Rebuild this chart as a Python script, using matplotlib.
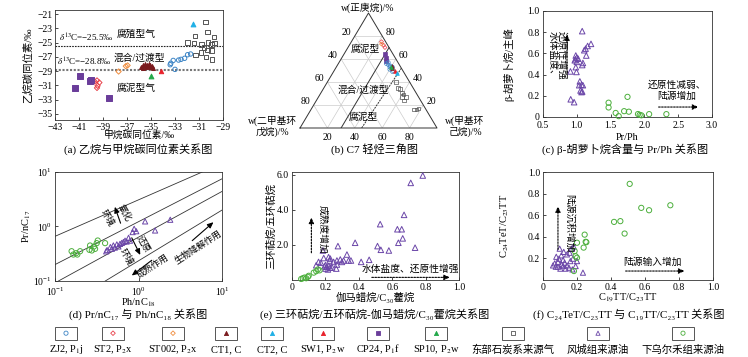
import numpy as np
import matplotlib
matplotlib.use("Agg")
import matplotlib.pyplot as plt
from matplotlib.patches import Rectangle
from matplotlib.ticker import NullLocator

plt.rcParams['font.family'] = ['Liberation Serif', 'Noto Sans CJK SC', 'DejaVu Sans']
plt.rcParams['mathtext.fontset'] = 'stix'
plt.rcParams['font.size'] = 7
plt.rcParams['axes.linewidth'] = 0.6
plt.rcParams['axes.edgecolor'] = '#333333'
plt.rcParams['xtick.direction'] = 'in'
plt.rcParams['ytick.direction'] = 'in'
plt.rcParams['xtick.major.size'] = 2.5
plt.rcParams['ytick.major.size'] = 2.5
plt.rcParams['xtick.major.width'] = 0.5
plt.rcParams['ytick.major.width'] = 0.5
plt.rcParams['xtick.labelsize'] = 7
plt.rcParams['ytick.labelsize'] = 7

# ---------------- data ----------------
# (a) ethane vs methane carbon isotopes (permil)
a_zj2_x = [-33.4, -33.35, -33.15, -32.7, -32.5, -32.2, -31.95, -31.7, -33.0]
a_zj2_y = [-28.1, -27.9, -27.5, -27.45, -27.35, -27.2, -26.7, -26.6, -28.75]
a_st2_x = [-39.7, -39.5, -39.3, -39.45, -39.5]
a_st2_y = [-30.45, -30.3, -30.6, -31.05, -31.35]
a_st002_x = [-37.7, -37.1, -36.95]
a_st002_y = [-29.05, -28.3, -28.2]
a_ct1_x = [-35.8, -35.65, -35.5, -35.35, -35.2, -35.05, -34.9, -35.7, -35.45, -35.1, -34.8, -35.3]
a_ct1_y = [-28.35, -28.2, -28.05, -28.1, -27.95, -28.1, -28.3, -28.5, -28.45, -28.4, -28.5, -28.3]
a_ct2_x = [-31.5]
a_ct2_y = [-22.4]
a_sw1_x = [-34.2]
a_sw1_y = [-28.95]
a_cp24_x = [-40.9, -41.35, -40.0, -40.1, -38.5]
a_cp24_y = [-29.65, -31.3, -30.25, -30.45, -32.8]
a_sp10_x = [-35.0]
a_sp10_y = [-29.75]
a_east_x = [-30.45, -31.35, -30.3, -29.75, -31.95, -31.4, -30.8, -30.25, -29.95, -29.7,
            -30.6, -30.3, -29.95, -30.85, -30.4, -29.9, -31.3]
a_east_y = [-22.1, -24.1, -23.5, -24.2, -25.0, -25.1, -25.25, -25.0, -25.25, -25.1,
            -25.7, -26.0, -26.1, -26.4, -27.05, -27.35, -26.7]
a_limits = [-25.5, -28.8]

# (b) C7 light hydrocarbons, w% (n-heptane, dimethylcyclopentane, methylcyclohexane)
b_st2 = dict(c7=[75, 72, 70], dmcp=[3, 3, 3], mch=[22, 25, 27])
b_st002 = dict(c7=[73], dmcp=[4], mch=[23])
b_cp24 = dict(c7=[64, 61, 58], dmcp=[6, 7, 8], mch=[30, 32, 34])
b_zj2 = dict(c7=[57, 55, 54, 53, 52, 50, 56, 51, 49, 53], dmcp=[7, 8, 7, 8, 7, 7, 9, 9, 8, 6],
             mch=[36, 37, 39, 39, 41, 43, 35, 40, 43, 41])
b_ct1 = dict(c7=[54, 52], dmcp=[6, 7], mch=[40, 41])
b_ct2 = dict(c7=[48], dmcp=[5], mch=[47])
b_sw1 = dict(c7=[50], dmcp=[6], mch=[44])
b_sp10 = dict(c7=[53], dmcp=[7], mch=[40])
b_east = dict(c7=[40, 35, 34, 31, 29, 27, 27, 24, 16, 16, 17], dmcp=[10, 11, 10, 10, 10, 9, 12, 12, 9, 7, 5],
              mch=[50, 54, 56, 59, 61, 64, 61, 64, 75, 77, 78])
b_bound1 = dict(c7=[0, 70], mch=[30, 30])
b_bound2 = dict(c7=[0, 52], mch=[45, 48])

# (c) beta-carotane / main peak vs Pr/Ph
c_fc_x = [1.08, 1.21, 1.16, 1.13, 1.11, 1.14, 0.985, 1.0, 0.98, 1.02, 0.97, 1.0, 1.09, 1.08,
          0.985, 0.995, 0.906, 1.045, 1.07, 1.035, 1.09, 1.055, 1.08, 1.07, 0.91, 0.96]
c_fc_y = [0.81, 0.69, 0.67, 0.645, 0.63, 0.58, 0.58, 0.56, 0.545, 0.55, 0.535, 0.52, 0.51, 0.49,
          0.47, 0.425, 0.43, 0.336, 0.305, 0.30, 0.30, 0.25, 0.24, 0.235, 0.167, 0.14]
c_xw_x = [1.47, 1.47, 1.75, 1.575, 1.62, 1.70, 1.77, 1.905, 1.93, 1.955, 2.07, 2.325]
c_xw_y = [0.135, 0.09, 0.19, 0.038, 0.008, 0.055, 0.05, 0.028, 0.02, 0.016, 0.027, 0.027]

# (d) Pr/nC17 vs Ph/nC18
d_xw_x = [0.158, 0.166, 0.185, 0.2, 0.179, 0.258, 0.276, 0.263, 0.293, 0.316, 0.325, 0.302, 0.398]
d_xw_y = [0.352, 0.306, 0.306, 0.352, 0.324, 0.373, 0.363, 0.448, 0.43, 0.495, 0.553, 0.389, 0.495]
d_fc_x = [1.2, 2.4, 1.58, 0.887, 0.85, 0.94, 0.76, 0.79, 0.69, 0.66, 0.6, 0.55, 0.5, 0.46,
          0.42, 0.48, 0.52, 0.575, 0.63, 0.72, 0.41]
d_fc_y = [1.24, 1.33, 0.845, 0.906, 0.79, 0.82, 0.62, 0.55, 0.55, 0.52, 0.48, 0.47, 0.45, 0.42,
          0.37, 0.39, 0.41, 0.43, 0.5, 0.53, 0.35]
# guide lines (start x, start y, end x, end y)
d_guides = [(0.1, 0.66, 5.8, 10), (0.1, 0.2, 10, 7.5), (0.11, 0.1, 10, 4.4), (0.4, 0.1, 10, 2.0)]

# (e) tricyclic/pentacyclic terpanes vs gammacerane/C30 hopane
e_fc_x = [0.783, 0.711, 0.671, 0.528, 0.631, 0.657, 0.663, 0.637, 0.737, 0.512, 0.532, 0.58,
          0.378, 0.275, 0.185, 0.414, 0.462, 0.329, 0.339, 0.353, 0.289, 0.309, 0.299, 0.249,
          0.269, 0.219, 0.229, 0.225, 0.159, 0.145, 0.173, 0.265, 0.269, 0.19, 0.20, 0.21,
          0.22, 0.23, 0.2, 0.215, 0.24, 0.195]
e_fc_y = [5.95, 5.53, 3.71, 3.18, 2.89, 2.89, 2.37, 2.12, 1.84, 1.93, 1.72, 1.68,
          2.12, 1.93, 1.68, 1.03, 1.15, 1.45, 1.11, 1.11, 1.17, 1.11, 1.03, 1.03,
          1.11, 1.30, 1.22, 1.11, 1.03, 0.84, 0.98, 0.65, 0.88, 1.25, 0.85, 0.75,
          0.8, 0.7, 0.65, 0.6, 0.72, 0.78]
e_xw_x = [0.055, 0.065, 0.075, 0.085, 0.095, 0.10, 0.13, 0.145, 0.155, 0.165]
e_xw_y = [0.06, 0.10, 0.14, 0.10, 0.18, 0.24, 0.42, 0.50, 0.60, 0.55]

# (f) C24TeT/C23TT vs C19TT/C23TT
f_xw_x = [0.51, 0.578, 0.624, 0.749, 0.418, 0.455, 0.48, 0.245, 0.255, 0.251, 0.239, 0.2,
          0.186, 0.192, 0.2, 0.182]
f_xw_y = [0.89, 0.668, 0.646, 0.692, 0.538, 0.545, 0.43, 0.42, 0.35, 0.354, 0.3, 0.345,
          0.268, 0.22, 0.206, 0.083]
f_fc_x = [0.235, 0.098, 0.122, 0.167, 0.18, 0.141, 0.157, 0.108, 0.078, 0.094, 0.118, 0.088,
          0.127, 0.069, 0.108, 0.141, 0.161, 0.176, 0.2, 0.192, 0.075, 0.102, 0.133, 0.153,
          0.173, 0.059, 0.088, 0.118]
f_fc_y = [0.068, 0.29, 0.26, 0.29, 0.31, 0.237, 0.252, 0.228, 0.215, 0.197, 0.185, 0.166,
          0.16, 0.154, 0.142, 0.135, 0.175, 0.197, 0.175, 0.129, 0.123, 0.105, 0.105, 0.114,
          0.098, 0.135, 0.123, 0.129]

legend_keys = ['zj2', 'st2', 'st002', 'ct1', 'ct2', 'sw1', 'cp24', 'sp10', 'east', 'fc', 'xw']
legend_labels = ['ZJ2, P$_1$j', 'ST2, P$_2$x', 'ST002, P$_2$x', 'CT1, C', 'CT2, C', 'SW1, P$_2$w',
                 'CP24, P$_1$f', 'SP10, P$_2$w', '东部石炭系来源气', '风城组来源油', '下乌尔禾组来源油']

# marker, colour, filled
STYLE = {
    'zj2': ('o', '#3d85c6', False),
    'st2': ('D', '#e8414a', False),
    'st002': ('D', '#f08c3c', False),
    'ct1': ('^', '#7a1a1e', True),
    'ct2': ('^', '#1fb0e6', True),
    'sw1': ('^', '#e8202a', True),
    'cp24': ('s', '#6a3d9a', True),
    'sp10': ('^', '#22a84a', True),
    'east': ('s', '#555555', False),
    'fc': ('^', '#6b46a8', False),
    'xw': ('o', '#4caf3c', False),
}


def pts(ax, x, y, key, s=12, lw=0.7):
    m, c, filled = STYLE[key]
    if m == 'D':
        s = s * 0.6
    ax.scatter(x, y, marker=m, s=s, facecolors=c if filled else 'none', edgecolors=c,
               linewidths=lw, zorder=3, clip_on=False)


def darrow(ax, p0, p1, ls=(0, (1.5, 1.2)), lw=0.8):
    ax.annotate('', xy=p1, xytext=p0,
                arrowprops=dict(arrowstyle='-|>,head_length=0.5,head_width=0.22', color='k',
                                lw=lw, ls=ls, shrinkA=0, shrinkB=0))


W, H = 748, 357
fig = plt.figure(figsize=(W / 100, H / 100), dpi=100)


def box(l, t, r, b):
    return [l / W, 1 - b / H, (r - l) / W, (b - t) / H]


# ---------------- (a) ----------------
ax = fig.add_axes(box(55, 10, 223, 120))
pts(ax, a_east_x, a_east_y, 'east', s=10)
pts(ax, a_zj2_x, a_zj2_y, 'zj2', s=10)
pts(ax, a_st2_x, a_st2_y, 'st2', s=12)
pts(ax, a_st002_x, a_st002_y, 'st002', s=12)
pts(ax, a_ct1_x, a_ct1_y, 'ct1', s=8)
pts(ax, a_ct2_x, a_ct2_y, 'ct2', s=12)
pts(ax, a_sw1_x, a_sw1_y, 'sw1', s=10)
pts(ax, a_cp24_x, a_cp24_y, 'cp24', s=14)
pts(ax, a_sp10_x, a_sp10_y, 'sp10', s=12)
ax.axhline(a_limits[0], color='#222222', lw=0.8, ls=(0, (1.5, 1)))
ax.axhline(a_limits[1], color='#777777', lw=1.5, ls=(0, (1, 0.8)))
ax.text(-42.7, a_limits[0] + 0.25, r'$\delta^{13}$C=−25.5‰', fontsize=6.5, va='bottom')
ax.text(-42.8, a_limits[1] + 0.25, r'$\delta^{13}$C=−28.8‰', fontsize=6.5, va='bottom')
ax.text(-36.2, -23.85, '腐殖型气', fontsize=7, ha='center', va='center')
ax.text(-36.0, -27.2, '混合/过渡型', fontsize=7, ha='center', va='center')
ax.text(-36.2, -31.4, '腐泥型气', fontsize=7, ha='center', va='center')
ax.set_xlim(-43, -29)
ax.set_ylim(-35.84, -20.44)
ax.set_xticks(np.arange(-43, -28, 2))
ax.set_yticks(np.arange(-35, -20, 2))
ax.tick_params(pad=2)
ax.set_xlabel('甲烷碳同位素/‰', fontsize=7)
ax.set_ylabel('乙烷碳同位素/‰', fontsize=7.5)
ax.xaxis.set_label_coords(0.5, -0.095)
ax.yaxis.set_label_coords(-0.13, 0.5)

# ---------------- (b) ternary ----------------
tx = fig.add_axes(box(300, 13, 437, 128))
tx.set_xlim(0, 1)
tx.set_ylim(0, np.sqrt(3) / 2)
tx.set_axis_off()
R3 = np.sqrt(3) / 2


def tern(c7, mch):
    c7 = np.asarray(c7, float) / 100
    mch = np.asarray(mch, float) / 100
    return mch + c7 / 2, c7 * R3


for k in [20, 40, 60, 80]:
    # constant n-heptane
    x0, y0 = tern(k, 0)
    x1, y1 = tern(k, 100 - k)
    tx.plot([x0, x1], [y0, y1], color='#cccccc', lw=0.5)
    # constant MCH
    x0, y0 = tern(0, k)
    x1, y1 = tern(100 - k, k)
    tx.plot([x0, x1], [y0, y1], color='#cccccc', lw=0.5)
    # constant DMCP
    x0, y0 = tern(0, 100 - k)
    x1, y1 = tern(100 - k, 0)
    tx.plot([x0, x1], [y0, y1], color='#cccccc', lw=0.5)
    # tick labels
    lx, ly = tern(100 - k, 0)
    tx.annotate(str(k), (lx, ly), xytext=(-8, 4), textcoords='offset pixels', ha='center', va='center', fontsize=7)
    rx, ry = tern(k, 100 - k)
    tx.annotate(str(k), (rx, ry), xytext=(8, 4), textcoords='offset pixels', ha='center', va='center', fontsize=7)
    bx, by = tern(0, k)
    tx.annotate(str(k), (bx, by), xytext=(0, -9), textcoords='offset pixels', ha='center', va='center', fontsize=7)

tx.plot([0, 1, 0.5, 0], [0, 0, R3, 0], color='#333333', lw=0.7, clip_on=False)
bx1, by1 = tern(b_bound1['c7'], b_bound1['mch'])
tx.plot(bx1, by1, color='#333333', lw=0.7)
bx2, by2 = tern(b_bound2['c7'], b_bound2['mch'])
tx.plot(bx2, by2, color='#333333', lw=0.7, ls=(0, (2, 1)))

for key, grp in [('east', b_east), ('st2', b_st2), ('st002', b_st002), ('cp24', b_cp24),
                 ('zj2', b_zj2), ('ct1', b_ct1), ('sw1', b_sw1), ('sp10', b_sp10), ('ct2', b_ct2)]:
    gx, gy = tern(grp['c7'], grp['mch'])
    pts(tx, gx, gy, key, s=7, lw=0.5)

tx.text(0.474, 0.595, '腐泥型', ha='center', va='center', fontsize=7)
tx.text(0.46, 0.286, '混合/过渡型', ha='center', va='center', fontsize=7)
tx.text(0.46, 0.083, '腐泥型', ha='center', va='center', fontsize=7)
tx.text(0.496, 0.905, 'w(正庚烷)/%', ha='center', va='center', fontsize=7, clip_on=False)
tx.text(-0.204, 0.011, 'w(二甲基环\n戊烷)/%', ha='center', va='center', fontsize=7, linespacing=1.1)
tx.text(1.204, 0.011, 'w(甲基环\n己烷)/%', ha='center', va='center', fontsize=7, linespacing=1.1)

# ---------------- (c) ----------------
ax = fig.add_axes(box(543, 11, 712, 117))
pts(ax, c_fc_x, c_fc_y, 'fc', s=16)
pts(ax, c_xw_x, c_xw_y, 'xw', s=14)
ax.set_xlim(0.5, 3.0)
ax.set_ylim(0, 1.0)
ax.set_xticks([0.5, 1.0, 1.5, 2.0, 2.5, 3.0])
ax.set_yticks([0, 0.2, 0.4, 0.6, 0.8, 1.0])
ax.set_yticklabels(['0', '0.2', '0.4', '0.6', '0.8', '1.0'])
ax.tick_params(axis='y', pad=2.5)
ax.tick_params(axis='x', pad=3)
ax.set_xlabel('Pr/Ph', fontsize=7.5)
ax.set_ylabel('β-胡萝卜烷/主峰', fontsize=7.5)
ax.xaxis.set_label_coords(0.5, -0.15)
ax.yaxis.set_label_coords(-0.17, 0.5)
darrow(ax, (0.855, 0.42), (0.855, 0.78))
ax.text(0.71, 0.58, '还原性增强\n水体盐度、', rotation=-90, ha='center', va='center',
        fontsize=7, linespacing=1.1, multialignment='left')
darrow(ax, (2.21, 0.094), (2.8, 0.094))
ax.text(2.48, 0.245, '还原性减弱、\n陆源增加', ha='center', va='center', fontsize=7, linespacing=1.2)

# ---------------- (d) ----------------
ax = fig.add_axes(box(55, 172, 222, 281))
ax.set_xscale('log')
ax.set_yscale('log')
for x0, y0, x1, y1 in d_guides:
    ax.plot([x0, x1], [y0, y1], color='#333333', lw=0.6)
pts(ax, d_xw_x, d_xw_y, 'xw', s=14)
pts(ax, d_fc_x, d_fc_y, 'fc', s=14)
ax.set_xlim(0.1, 10)
ax.set_ylim(0.1, 10)
ax.xaxis.set_minor_locator(NullLocator())
ax.yaxis.set_minor_locator(NullLocator())
ax.tick_params(axis='y', pad=2.5)
ax.tick_params(axis='x', pad=3)
ax.set_xlabel('Ph/nC$_{18}$', fontsize=7.5)
ax.set_ylabel('Pr/nC$_{17}$', fontsize=7.5)
ax.xaxis.set_label_coords(0.5, -0.14)
ax.yaxis.set_label_coords(-0.13, 0.5)
darrow(ax, (0.61, 1.15), (0.52, 2.3), ls='-')
darrow(ax, (0.83, 0.62), (1.05, 0.30), ls='-')
darrow(ax, (1.44, 0.24), (0.83, 0.126), ls='-')
darrow(ax, (4.4, 0.55), (7.9, 1.2), ls='-')
ax.text(0.68, 1.75, '氧化', rotation=-60, ha='center', va='center', fontsize=6.5)
ax.text(0.43, 1.45, '环境', rotation=-60, ha='center', va='center', fontsize=6.5)
ax.text(1.15, 0.48, '还原', rotation=-60, ha='center', va='center', fontsize=6.5)
ax.text(0.72, 0.28, '环境', rotation=-60, ha='center', va='center', fontsize=6.5)
ax.text(1.5, 0.185, '成熟作用', rotation=33, ha='center', va='center', fontsize=6.5)
ax.text(5.2, 0.42, '生物降解作用', rotation=33, ha='center', va='center', fontsize=6.5)

# ---------------- (e) ----------------
ax = fig.add_axes(box(292, 172, 459, 280))
pts(ax, e_fc_x, e_fc_y, 'fc', s=16)
pts(ax, e_xw_x, e_xw_y, 'xw', s=14)
ax.set_xlim(0, 1.0)
ax.set_ylim(0, 6.15)
ax.set_xticks([0, 0.2, 0.4, 0.6, 0.8, 1.0])
ax.set_xticklabels(['0', '0.2', '0.4', '0.6', '0.8', '1.0'])
ax.set_yticks([2, 4, 6])
ax.set_yticklabels(['2.0', '4.0', '6.0'])
ax.tick_params(pad=2)
ax.set_xlabel('伽马蜡烷/C₃₀藿烷', fontsize=7.5)
ax.set_ylabel('三环萜烷/五环萜烷', fontsize=7.5)
ax.xaxis.set_label_coords(0.5, -0.11)
ax.yaxis.set_label_coords(-0.095, 0.5)
darrow(ax, (0.116, 1.55), (0.116, 3.56))
ax.text(0.18, 2.9, '成熟度增加', rotation=-90, ha='center', va='center', fontsize=7)
darrow(ax, (0.478, 0.15), (0.946, 0.15))
ax.text(0.707, 0.62, '水体盐度、还原性增强', ha='center', va='center', fontsize=7)

# ---------------- (f) ----------------
ax = fig.add_axes(box(543, 172, 713, 280))
pts(ax, f_fc_x, f_fc_y, 'fc', s=14)
pts(ax, f_xw_x, f_xw_y, 'xw', s=14)
ax.set_xlim(0, 1.0)
ax.set_ylim(0, 1.0)
ax.set_xticks([0, 0.2, 0.4, 0.6, 0.8, 1.0])
ax.set_xticklabels(['0', '0.2', '0.4', '0.6', '0.8', '1.0'])
ax.set_yticks([0.2, 0.4, 0.6, 0.8, 1.0])
ax.set_yticklabels(['0.2', '0.4', '0.6', '0.8', '1.0'])
ax.tick_params(pad=2)
ax.set_xlabel('C$_{19}$TT/C$_{23}$TT', fontsize=7.5)
ax.set_ylabel('C$_{24}$TeT/C$_{23}$TT', fontsize=7.5)
ax.xaxis.set_label_coords(0.5, -0.11)
ax.yaxis.set_label_coords(-0.19, 0.5)
darrow(ax, (0.088, 0.283), (0.088, 0.683))
ax.text(0.157, 0.53, '陆源沉积增加', rotation=-90, ha='center', va='center', fontsize=7)
darrow(ax, (0.486, 0.083), (0.833, 0.083))
ax.text(0.647, 0.165, '陆源输入增加', ha='center', va='center', fontsize=7)

# ---------------- captions and legend ----------------
ov = fig.add_axes([0, 0, 1, 1])
ov.set_axis_off()
ov.set_xlim(0, W)
ov.set_ylim(H, 0)
ov.patch.set_visible(False)
cap_kw = dict(ha='center', va='center', fontsize=8)
ov.text(138, 149.5, '(a) 乙烷与甲烷碳同位素关系图', **cap_kw)
ov.text(375, 149.5, '(b) C7 轻烃三角图', **cap_kw)
ov.text(625, 149.5, '(c) β-胡萝卜烷含量与 Pr/Ph 关系图', **cap_kw)
ov.text(138, 314, '(d) Pr/nC₁₇ 与 Ph/nC₁₈ 关系图', **cap_kw)
ov.text(375, 314, '(e) 三环萜烷/五环萜烷-伽马蜡烷/C₃₀藿烷关系图', **cap_kw)
ov.text(629, 314, '(f) C₂₄TeT/C₂₃TT 与 C₁₉TT/C₂₃TT 关系图', **cap_kw)

leg_cx = [66, 113, 173, 226, 272, 323, 378, 436, 513, 598, 683]
for cx, key, lab in zip(leg_cx, legend_keys, legend_labels):
    ov.add_patch(Rectangle((cx - 11, 327), 22, 12.5, fill=False, ec='#555555', lw=0.7))
    pts(ov, [cx], [333.2], key, s=9, lw=0.6)
    ov.text(cx, 349.5, lab, ha='center', va='center', fontsize=7.5)

fig.savefig('out.png', dpi=100)
